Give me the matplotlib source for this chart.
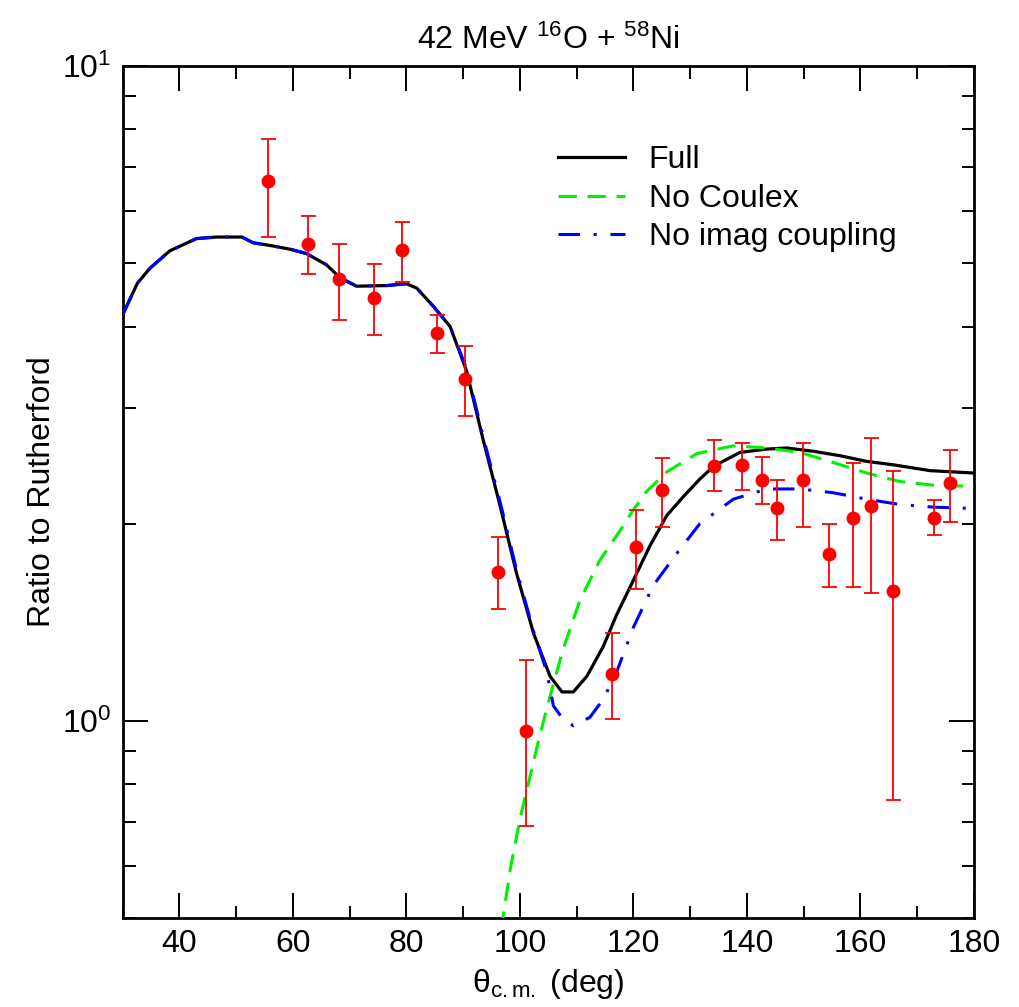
import matplotlib
matplotlib.use("Agg")
import matplotlib.pyplot as plt
from matplotlib.ticker import LogLocator, NullFormatter, MultipleLocator

plt.rcParams['font.family'] = ['Liberation Sans', 'DejaVu Sans']
plt.rcParams['mathtext.fontset'] = 'custom'
plt.rcParams['mathtext.rm'] = 'Liberation Sans'
plt.rcParams['mathtext.it'] = 'Liberation Sans:italic'
plt.rcParams['mathtext.bf'] = 'Liberation Sans:bold'

# Measured ratio to Rutherford
theta_exp = [55.6, 62.6, 68.1, 74.2, 79.3, 85.4, 90.3, 96.2, 101.1, 116.2, 120.4, 125.1,
             134.2, 139.1, 142.6, 145.3, 149.8, 154.4, 158.6, 161.8, 165.7, 173.0, 175.8]
ratio_exp = [6.68, 5.35, 4.72, 4.43, 5.24, 3.91, 3.33, 1.69, 0.965, 1.18, 1.84, 2.25,
             2.45, 2.46, 2.33, 2.11, 2.33, 1.80, 2.04, 2.13, 1.58, 2.04, 2.31]
err_hi = [7.74, 5.90, 5.35, 4.99, 5.78, 4.17, 3.74, 1.91, 1.24, 1.36, 2.10, 2.52,
          2.68, 2.66, 2.53, 2.33, 2.66, 2.00, 2.48, 2.70, 2.41, 2.17, 2.59]
err_lo = [5.49, 4.82, 4.10, 3.88, 4.68, 3.65, 2.92, 1.48, 0.691, 1.008, 1.59, 1.98,
          2.24, 2.25, 2.14, 1.89, 1.98, 1.60, 1.60, 1.57, 0.757, 1.92, 2.01]

# Full coupled-channels calculation
theta_full = [30.0, 32.6, 34.8, 38.3, 43.0, 46.6, 51.0, 53.0, 56.5, 59.5, 62.4, 65.9,
              68.3, 71.2, 76.5, 80.0, 81.8, 84.7, 87.7, 90.6, 93.5, 96.5, 99.4, 102.4,
              105.3, 107.4, 109.4, 111.8, 114.7, 117.0, 120.0, 122.9, 125.9, 128.8,
              131.7, 134.2, 138.8, 143.5, 147.0, 151.7, 156.4, 161.1, 165.8, 172.3, 180.0]
ratio_full = [4.17, 4.66, 4.91, 5.22, 5.45, 5.48, 5.48, 5.37, 5.31, 5.25, 5.17, 4.97,
              4.75, 4.61, 4.62, 4.65, 4.58, 4.30, 4.00, 3.42, 2.69, 2.13, 1.68, 1.36,
              1.17, 1.107, 1.107, 1.17, 1.30, 1.45, 1.64, 1.85, 2.06, 2.20,
              2.34, 2.45, 2.57, 2.60, 2.61, 2.58, 2.54, 2.49, 2.46, 2.41, 2.39]

# Calculation without Coulomb excitation
theta_nocx = [96.7, 98.3, 100.0, 103.2, 105.0, 107.6, 110.6, 114.1, 117.6, 120.0, 122.3,
              125.9, 131.2, 137.6, 143.5, 149.3, 155.2, 161.1, 166.9, 172.8, 180.0]
ratio_nocx = [0.48, 0.594, 0.708, 0.927, 1.067, 1.286, 1.53, 1.76, 1.95, 2.10, 2.24,
              2.40, 2.56, 2.63, 2.61, 2.57, 2.48, 2.39, 2.32, 2.29, 2.28]

# Calculation without imaginary coupling potentials
theta_noim = [30.0, 32.6, 34.8, 38.3, 43.0, 46.6, 51.0, 53.0, 56.5, 59.5, 62.4, 65.9,
              68.3, 71.2, 76.5, 80.0, 81.8, 84.7, 87.7, 90.6, 93.5, 96.5, 99.4, 102.4,
              104.7, 105.9, 107.6, 109.4, 112.3, 114.7, 117.0, 120.0, 123.5, 127.6,
              131.7, 137.6, 143.5, 149.3, 155.2, 161.1, 166.9, 172.8, 180.0]
ratio_noim = [4.17, 4.66, 4.91, 5.22, 5.45, 5.48, 5.48, 5.37, 5.31, 5.25, 5.17, 4.97,
              4.75, 4.61, 4.62, 4.65, 4.58, 4.30, 4.00, 3.45, 2.72, 2.16, 1.70, 1.37,
              1.19, 1.054, 1.006, 0.983, 1.012, 1.079, 1.185, 1.39, 1.61, 1.80,
              2.00, 2.18, 2.26, 2.26, 2.23, 2.18, 2.14, 2.12, 2.11]

x_ticks = [40, 60, 80, 100, 120, 140, 160, 180]

fig = plt.figure(figsize=(10.19, 10.07), dpi=100)
ax = fig.add_axes([0.1204, 0.0884, 0.8354, 0.8461])

ax.plot(theta_full, ratio_full, color='black', lw=2.3, label='Full', zorder=2)
ax.plot(theta_nocx, ratio_nocx, color='#00f000', lw=2.2, dashes=(6, 3.5),
        label='No Coulex', zorder=3)
ax.plot(theta_noim, ratio_noim, color='#0000ff', lw=2.2, dashes=(7, 4.5, 1, 4.5),
        label='No imag coupling', zorder=3)

yerr = [[r - lo for r, lo in zip(ratio_exp, err_lo)],
        [hi - r for r, hi in zip(ratio_exp, err_hi)]]
ax.errorbar(theta_exp, ratio_exp, yerr=yerr, fmt='o', color='#ff0000', ms=9,
            elinewidth=1.3, capsize=5.4, capthick=1.3, zorder=4)

ax.set_yscale('log')
ax.set_xlim(30, 180)
ax.set_ylim(0.5, 10)
ax.set_xticks(x_ticks)
ax.xaxis.set_minor_locator(MultipleLocator(10))
ax.yaxis.set_major_locator(LogLocator(base=10, numticks=10))
ax.yaxis.set_minor_locator(LogLocator(base=10, subs=range(2, 10), numticks=20))
ax.yaxis.set_minor_formatter(NullFormatter())

ax.tick_params(which='both', direction='in', top=True, right=True, width=1.4,
               labelsize=23)
ax.tick_params(which='major', length=18, pad=8)
ax.tick_params(which='minor', length=9)
for sp in ax.spines.values():
    sp.set_linewidth(2.0)

ax.set_title(r'42 MeV $^{16}$O + $^{58}$Ni', fontsize=23, pad=12)
ax.set_xlabel('θ$_{\\rm c.m.}$ (deg)', fontsize=23, labelpad=6)
ax.set_ylabel('Ratio to Rutherford', fontsize=23, labelpad=4)

ax.legend(loc='upper left', bbox_to_anchor=(0.496, 0.922), frameon=False,
          fontsize=23, handlelength=2.1, handletextpad=0.75, labelspacing=0.27,
          borderaxespad=0)

fig.savefig('out.png', dpi=100)
